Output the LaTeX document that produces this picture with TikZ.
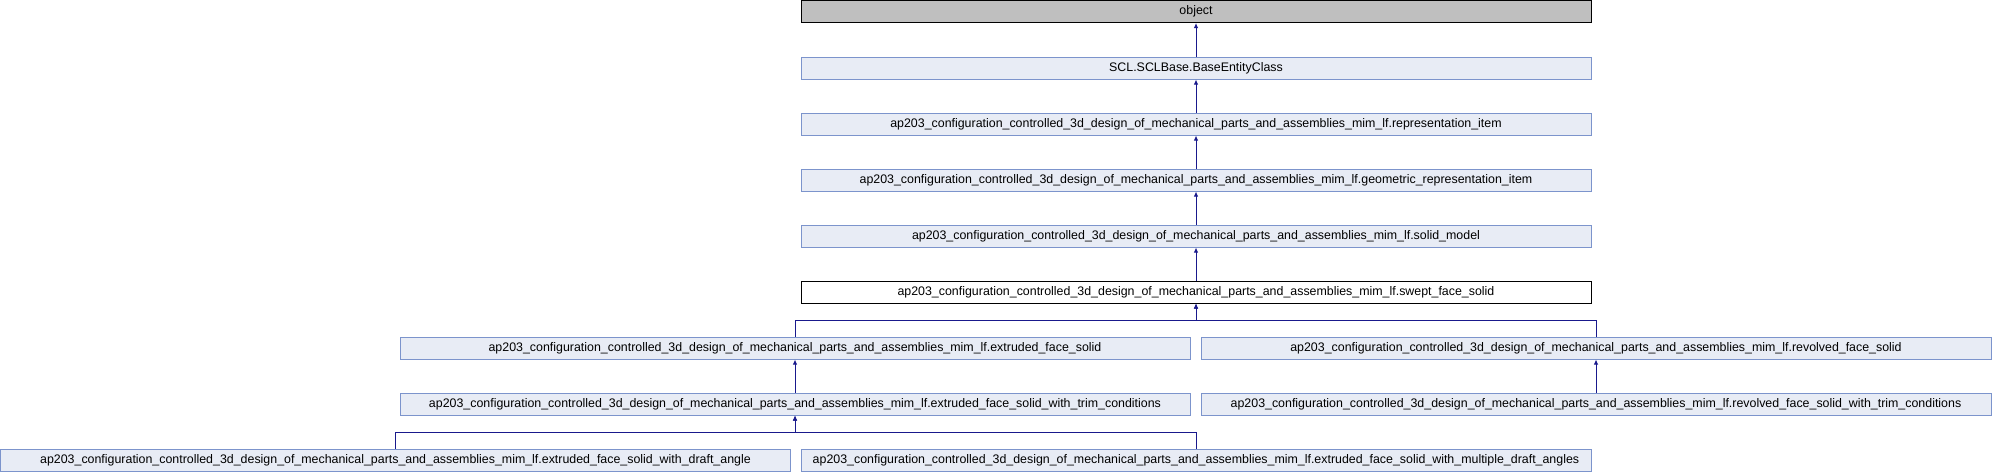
\documentclass[tikz,border=0pt]{standalone}
\usepackage{fontspec}
\setmainfont{Liberation Sans}
\usetikzlibrary{arrows.meta}
\definecolor{boxfill}{RGB}{232,236,245}
\definecolor{boxdraw}{RGB}{124,148,204}
\definecolor{edgecol}{RGB}{25,25,140}
\definecolor{rootfill}{RGB}{191,191,191}
\tikzset{
  cls/.style={draw=boxdraw, fill=boxfill, line width=1pt, minimum width=790pt, minimum height=22pt, inner sep=0pt, font=\fontsize{12.4}{14}\selectfont, anchor=center},
  rootcls/.style={cls, draw=black, fill=rootfill},
  curcls/.style={cls, draw=black, fill=white},
  edge/.style={draw=edgecol, line width=1pt, -{Latex[length=5pt,width=4.5pt]}},
}
\begin{document}
\begin{tikzpicture}[x=1pt,y=-1pt]
\useasboundingbox (0,0) rectangle (1992,472);
\node[rootcls] (obj) at (1196,11.5) {object};
\node[cls] (scl) at (1196,68) {SCL.SCLBase.BaseEntityClass};
\node[cls] (rep) at (1196,124) {ap203\_configuration\_controlled\_3d\_design\_of\_mechanical\_parts\_and\_assemblies\_mim\_lf.representation\_item};
\node[cls] (geo) at (1196,180) {ap203\_configuration\_controlled\_3d\_design\_of\_mechanical\_parts\_and\_assemblies\_mim\_lf.geometric\_representation\_item};
\node[cls] (sol) at (1196,236) {ap203\_configuration\_controlled\_3d\_design\_of\_mechanical\_parts\_and\_assemblies\_mim\_lf.solid\_model};
\node[curcls] (swe) at (1196,292) {ap203\_configuration\_controlled\_3d\_design\_of\_mechanical\_parts\_and\_assemblies\_mim\_lf.swept\_face\_solid};
\node[cls] (ext) at (795,348) {ap203\_configuration\_controlled\_3d\_design\_of\_mechanical\_parts\_and\_assemblies\_mim\_lf.extruded\_face\_solid};
\node[cls] (rev) at (1596,348) {ap203\_configuration\_controlled\_3d\_design\_of\_mechanical\_parts\_and\_assemblies\_mim\_lf.revolved\_face\_solid};
\node[cls] (etr) at (795,404) {ap203\_configuration\_controlled\_3d\_design\_of\_mechanical\_parts\_and\_assemblies\_mim\_lf.extruded\_face\_solid\_with\_trim\_conditions};
\node[cls] (rtr) at (1596,404) {ap203\_configuration\_controlled\_3d\_design\_of\_mechanical\_parts\_and\_assemblies\_mim\_lf.revolved\_face\_solid\_with\_trim\_conditions};
\node[cls] (dra) at (395.5,460) {ap203\_configuration\_controlled\_3d\_design\_of\_mechanical\_parts\_and\_assemblies\_mim\_lf.extruded\_face\_solid\_with\_draft\_angle};
\node[cls] (mul) at (1196,460) {ap203\_configuration\_controlled\_3d\_design\_of\_mechanical\_parts\_and\_assemblies\_mim\_lf.extruded\_face\_solid\_with\_multiple\_draft\_angles};
\draw[edge] (scl) -- (obj);
\draw[edge] (rep) -- (scl);
\draw[edge] (geo) -- (rep);
\draw[edge] (sol) -- (geo);
\draw[edge] (swe) -- (sol);
\draw[edge] (ext.north) -- ++(0,-16) -| (swe.south);
\draw[edge] (rev.north) -- ++(0,-16) -| (swe.south);
\draw[edge] (etr) -- (ext);
\draw[edge] (rtr) -- (rev);
\draw[edge] (dra.north) -- ++(0,-16) -| (etr.south);
\draw[edge] (mul.north) -- ++(0,-16) -| (etr.south);
\end{tikzpicture}
\end{document}
